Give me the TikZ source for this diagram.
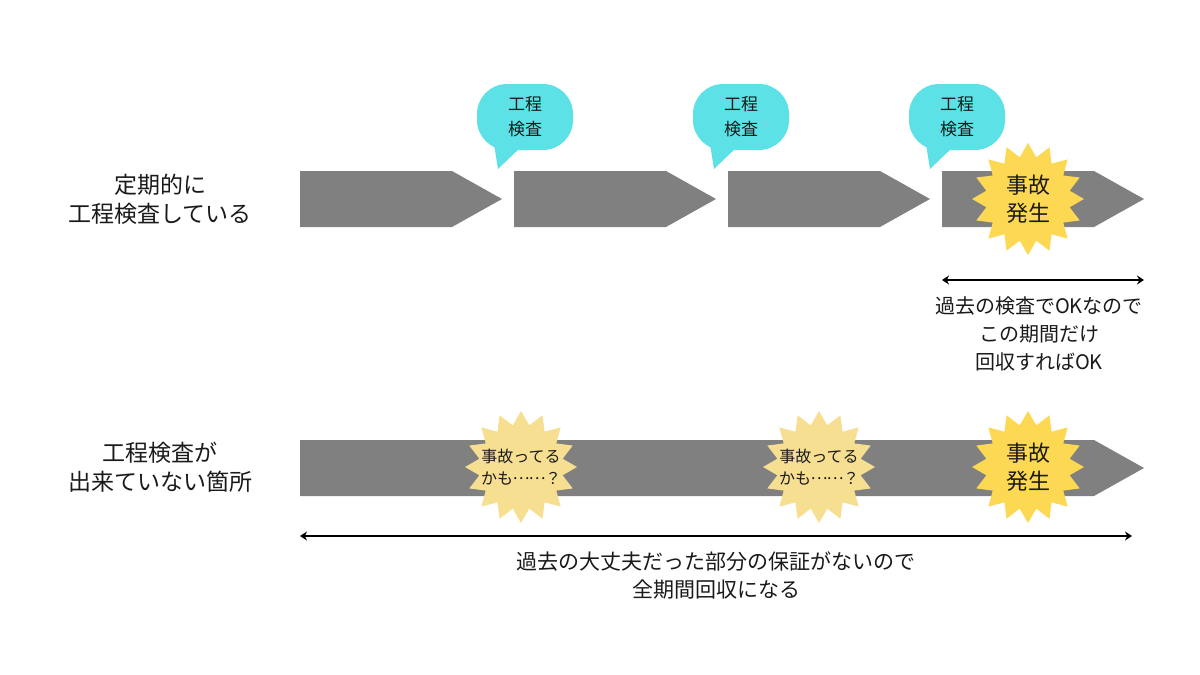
\documentclass[tikz,border=0pt]{standalone}
\usepackage{fontspec}
\setmainfont{Noto Sans CJK JP}
\usetikzlibrary{shapes.geometric,arrows.meta}
\definecolor{bargray}{HTML}{808080}
\definecolor{bubcyan}{HTML}{5CE1E6}
\definecolor{gold}{HTML}{FDD852}
\definecolor{pale}{HTML}{F7DF92}
\definecolor{txt}{HTML}{1A1A1A}
\newcommand{\midell}{\makebox[1em][c]{\raisebox{0.32em}{…}}}
\tikzset{
  bar/.style={fill=bargray},
  bubble/.style={rectangle, rounded corners=30pt, fill=bubcyan, minimum width=96pt, minimum height=66pt, inner sep=0pt},
  bubtext/.style={align=center, text=txt, font=\fontsize{17}{25}\selectfont},
  burst/.style={star, star points=16, star point ratio=1.32, minimum size=112pt, inner sep=0pt},
  bigburst/.style={burst, fill=gold},
  paleburst/.style={burst, fill=pale},
  bursttext/.style={align=center, text=txt, font=\fontsize{22}{28}\selectfont},
  smalltext/.style={align=center, text=txt, font=\fontsize{16}{22}\selectfont},
  sidelabel/.style={align=center, text=txt, font=\fontsize{23}{29}\selectfont},
  note/.style={align=center, text=txt, font=\fontsize{20}{28}\selectfont},
  note2/.style={align=center, text=txt, font=\fontsize{21}{28}\selectfont},
  span/.style={line width=2pt, {Stealth[length=7pt,width=9pt]}-{Stealth[length=7pt,width=9pt]}}
}
\begin{document}
\begin{tikzpicture}[x=1pt,y=-1pt]
\useasboundingbox[fill=white] (0,0) rectangle (1200,675);

% top row arrows
\foreach \dx in {0,214,428,642}{
  \fill[bar] (300+\dx,171) -- (452+\dx,171) -- (502+\dx,199) -- (452+\dx,227) -- (300+\dx,227) -- cycle;
}
% bottom arrow
\fill[bar] (300,440) -- (1094,440) -- (1144,468) -- (1094,496) -- (300,496) -- cycle;

% bubbles
\foreach \n/\dx in {1/0,2/216,3/432}{
  \fill[bubcyan] (493+\dx,138) -- (498+\dx,169) -- (522+\dx,146) -- cycle;
  \node[bubble] (b\n) at (525+\dx,117) {};
  \node[bubtext] (bt\n) at (b\n.center) {工程\\検査};
}

% bursts
\node[bigburst] (s1) at (1028,199) {};
\node[bursttext] (s1t) at (s1.center) {事故\\発生};
\node[paleburst] (s2) at (521,467) {};
\node[smalltext] (s2t) at (s2.center) {事故ってる\\かも\midell\midell？};
\node[paleburst] (s3) at (819,467) {};
\node[smalltext] (s3t) at (s3.center) {事故ってる\\かも\midell\midell？};
\node[bigburst] (s4) at (1028,467) {};
\node[bursttext] (s4t) at (s4.center) {事故\\発生};

% side labels
\node[sidelabel] (l1) at (160,199) {定期的に\\工程検査している};
\node[sidelabel] (l2) at (160,467) {工程検査が\\出来ていない箇所};

% spans
\coordinate (a1) at (942,280);
\coordinate (a2) at (1144,280);
\draw[span] (a1) -- (a2);
\node[note] (n1) at (1039,334) {過去の検査でOKなので\\この期間だけ\\回収すればOK};

\coordinate (c1) at (300,536);
\coordinate (c2) at (1132,536);
\draw[span] (c1) -- (c2);
\node[note2] (n2) at (716,575) {過去の大丈夫だった部分の保証がないので\\全期間回収になる};
\end{tikzpicture}
\end{document}
